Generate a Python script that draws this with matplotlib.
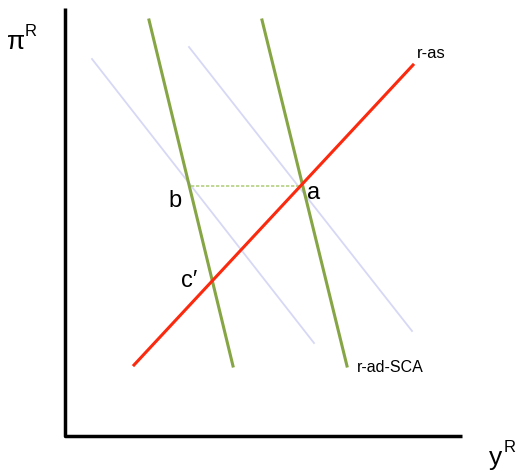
import matplotlib.pyplot as plt

# line endpoints in picture units (x to the right, y downwards)
axis_x = [65, 65, 462]
axis_y = [8, 436, 436]

ras_x = [134, 413]
ras_y = [365, 65]

ad_old_x = [149, 233]
ad_old_y = [20, 366]
ad_new_x = [262, 347]
ad_new_y = [20, 366]

shift1_x = [92, 314]
shift1_y = [59, 343]
shift2_x = [189, 412]
shift2_y = [47, 331]

dotted_x = [191, 302]
dotted_y = [186, 186]

point_labels = ["b", "a", "c\u2032"]
point_x = [168, 307, 181]
point_y = [201, 193, 281]

plt.rcParams['font.family'] = ['Liberation Sans', 'DejaVu Sans']

fig = plt.figure(figsize=(5.17, 4.71), dpi=100)
ax = fig.add_axes([0, 0, 1, 1])
ax.set_xlim(0, 517)
ax.set_ylim(471, 0)
ax.axis("off")

ax.plot(shift1_x, shift1_y, color="#d6d8f5", lw=1.3)
ax.plot(shift2_x, shift2_y, color="#d6d8f5", lw=1.3)
ax.plot(dotted_x, dotted_y, color="#b5cf82", lw=1.2, ls=(0, (2, 1)))
ax.plot(ad_old_x, ad_old_y, color="#86a544", lw=2.2)
ax.plot(ad_new_x, ad_new_y, color="#86a544", lw=2.2)
ax.plot(ras_x, ras_y, color="#fb2a0f", lw=2.2)
ax.plot(axis_x, axis_y, color="black", lw=2.5, solid_capstyle="butt")

for lab, x, y in zip(point_labels, point_x, point_y):
    ax.text(x, y, lab, fontsize=17, ha="left", va="center")

ax.text(417, 53, "r-as", fontsize=12, ha="left", va="center")
ax.text(357, 368, "r-ad-SCA", fontsize=11.5, ha="left", va="center")

ax.text(7, 42, "\u03c0", fontsize=19, ha="left", va="center")
ax.text(25, 31, "R", fontsize=12, ha="left", va="center")
ax.text(489, 458, "y", fontsize=19, ha="left", va="center")
ax.text(504, 447, "R", fontsize=12, ha="left", va="center")

fig.savefig("out.png", dpi=100)
